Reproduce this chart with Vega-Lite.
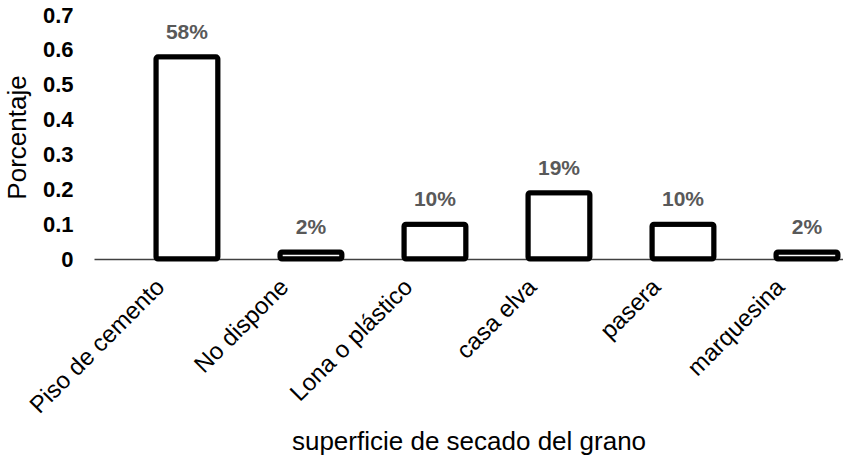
{
  "$schema": "https://vega.github.io/schema/vega-lite/v6.json",
  "width": 749,
  "height": 244,
  "autosize": {"type": "none"},
  "padding": {"left": 94, "top": 15, "right": 0, "bottom": 199},
  "background": "white",
  "config": {"view": {"stroke": null}, "font": "Liberation Sans"},
  "data": {
    "values": [
      {"superficie": "Piso de cemento", "porcentaje": 0.58},
      {"superficie": "No dispone", "porcentaje": 0.02},
      {"superficie": "Lona o plástico", "porcentaje": 0.10},
      {"superficie": "casa elva", "porcentaje": 0.19},
      {"superficie": "pasera", "porcentaje": 0.10},
      {"superficie": "marquesina", "porcentaje": 0.02}
    ]
  },
  "encoding": {
    "x": {
      "field": "superficie",
      "type": "nominal",
      "sort": null,
      "scale": {"paddingInner": 0.5, "paddingOuter": 0.27, "align": 0.925},
      "axis": {
        "title": "superficie de secado del grano",
        "titleFontSize": 26,
        "titleFontWeight": "normal",
        "titleColor": "black",
        "titleY": 190,
        "titleBaseline": "alphabetic",
        "labelAngle": -45,
        "labelAlign": "right",
        "labelBaseline": "middle",
        "labelFontSize": 24,
        "labelColor": "black",
        "labelPadding": 24,
        "labelOffset": -26,
        "ticks": false,
        "grid": false,
        "domainColor": "#404040",
        "domainWidth": 1.5
      }
    },
    "y": {
      "field": "porcentaje",
      "type": "quantitative",
      "scale": {"domain": [0, 0.7]},
      "axis": {
        "title": "Porcentaje",
        "titleFontSize": 26,
        "titleFontWeight": "normal",
        "titleColor": "black",
        "titleX": -69,
        "titleBaseline": "alphabetic",
        "values": [0, 0.1, 0.2, 0.3, 0.4, 0.5, 0.6, 0.7],
        "format": ".1~f",
        "labelFontSize": 22,
        "labelFontWeight": "bold",
        "labelColor": "black",
        "labelPadding": 21,
        "ticks": false,
        "domain": false,
        "grid": false
      }
    }
  },
  "layer": [
    {"mark": {"type": "bar", "fill": "white", "stroke": "black", "strokeWidth": 5, "cornerRadius": 2}},
    {
      "mark": {"type": "text", "dy": -14, "baseline": "bottom", "fontSize": 21, "fontWeight": "bold", "color": "#595959"},
      "encoding": {"text": {"field": "porcentaje", "type": "quantitative", "format": ".0%"}}
    }
  ]
}
